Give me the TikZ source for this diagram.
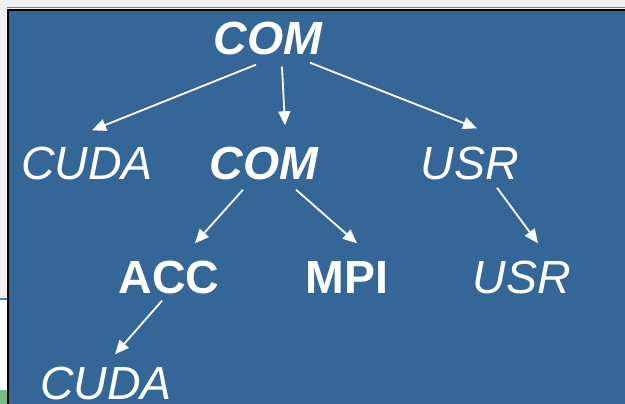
\documentclass[tikz,border=0pt]{standalone}
\usepackage{fontspec}
\setmainfont{Liberation Sans}
\usetikzlibrary{arrows.meta}

\definecolor{slide}{RGB}{52,103,152}
\definecolor{frame}{RGB}{240,240,240}
\definecolor{stripe}{RGB}{74,126,187}
\definecolor{leaf}{RGB}{120,188,136}

\tikzset{lab/.style={text=white, inner sep=0pt, text height=33pt, text depth=0pt, font=\fontsize{46.5}{50}\selectfont}}
\tikzset{bi/.style={lab, font=\fontsize{46.5}{50}\selectfont\bfseries\itshape}}
\tikzset{it/.style={lab, font=\fontsize{46.5}{50}\selectfont\itshape}}
\tikzset{bf/.style={lab, font=\fontsize{46.5}{50}\selectfont\bfseries}}

\begin{document}
\begin{tikzpicture}[x=1pt, y=-1pt, arr/.style={draw=white, line width=1.8pt, -{Triangle[length=14pt,width=12pt]}}]
    \useasboundingbox (0,0) rectangle (625,404);
    \fill[frame] (0,0) rectangle (625,404);
    \fill[slide] (8,10) rectangle (625,404);
    \draw[gray, line width=1pt] (7,8) -- (625,8);
    \draw[black, line width=2pt] (7.5,404) -- (7.5,10) -- (625,10);
    \fill[stripe] (0,298) rectangle (6.5,300);
    \fill[white] (0,300) rectangle (6.5,390);
    \fill[leaf] (0,390) rectangle (6.5,404);

    \node[bi] (0) at (268,38) {COM};

    \node[it] (1) at (87,163) {CUDA};
    \node[bi] (2) at (264,163) {COM};
    \node[it] (3) at (470,163) {USR};

    \node[bf] (4) at (169,277) {ACC};
    \node[bf] (5) at (347,277) {MPI};
    \node[it] (6) at (522,277) {USR};

    \node[it] (7) at (106,383) {CUDA};

    \draw[arr] ([shift={(-12,10)}]0.south) -- ([shift={(5,-16)}]1.north);
    \draw[arr] ([shift={(14,12)}]0.south) -- ([shift={(21,-21)}]2.north);
    \draw[arr] ([shift={(42,8)}]0.south) -- ([shift={(7,-18)}]3.north);
    \draw[arr] ([shift={(-21,10)}]2.south) -- ([shift={(26,-17)}]4.north);
    \draw[arr] ([shift={(32,10)}]2.south) -- ([shift={(10,-17)}]5.north);
    \draw[arr] ([shift={(27,8)}]3.south) -- ([shift={(16,-17)}]6.north);
    \draw[arr] ([shift={(-7,7)}]4.south) -- ([shift={(9,-12)}]7.north);
\end{tikzpicture}
\end{document}
